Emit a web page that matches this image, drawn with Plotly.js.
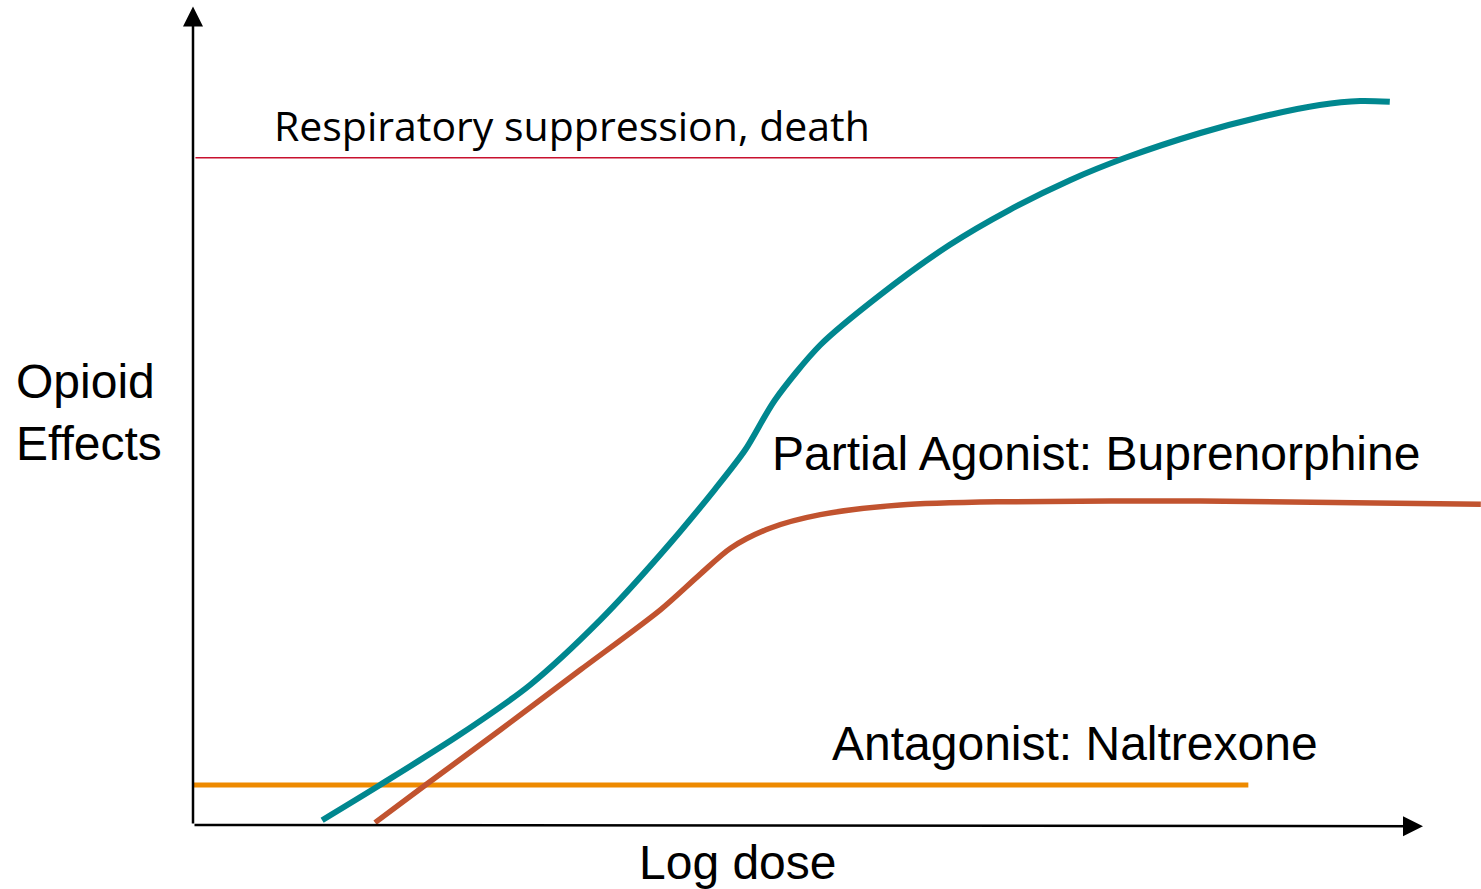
<!DOCTYPE html>
<html>
<head>
<meta charset="utf-8">
<script src="https://cdn.plot.ly/plotly-3.0.1.min.js"></script>
<style>html,body{margin:0;padding:0;background:#fff;}#chart{width:1481px;height:889px;}</style>
</head>
<body>
<div id="chart"></div>
<script>
// Log dose (x) and opioid effect (y)
const fullDose   = [1.05, 1.52, 2.17, 2.74, 3.31, 3.80, 4.24, 4.49, 4.73, 5.10, 5.59, 6.15, 6.64, 7.13, 7.58, 8.19, 8.68, 9.16, 9.49, 9.73];
const fullEffect = [0.6, 5.0, 11.3, 17.5, 25.6, 33.8, 41.9, 46.9, 53.1, 60.0, 66.3, 72.5, 76.9, 80.6, 83.4, 86.5, 88.5, 90.0, 90.5, 90.4];
const partialDose   = [1.48, 1.89, 2.50, 3.15, 3.80, 4.12, 4.37, 4.69, 5.10, 5.75, 6.56, 8.19, 10.47];
const partialEffect = [0.3, 5.0, 11.9, 19.4, 26.9, 31.3, 34.6, 37.1, 38.8, 40.0, 40.4, 40.5, 40.1];
const antagonistDose   = [0, 8.58];
const antagonistEffect = [5.0, 5.0];
const deathDose   = [0.02, 7.58];
const deathEffect = [83.4, 83.4];

const traces = [
  {x: deathDose, y: deathEffect, mode: 'lines', line: {color: '#c8102e', width: 1.5}, hoverinfo: 'skip'},
  {x: antagonistDose, y: antagonistEffect, mode: 'lines', line: {color: '#ee8a00', width: 5}, hoverinfo: 'skip'},
  {x: fullDose, y: fullEffect, mode: 'lines', line: {color: '#00878f', width: 6, shape: 'spline', smoothing: 0.8}, hoverinfo: 'skip'},
  {x: partialDose, y: partialEffect, mode: 'lines', line: {color: '#c1532f', width: 5.5, shape: 'spline', smoothing: 0.8}, hoverinfo: 'skip'}
];

const layout = {
  width: 1481, height: 889,
  margin: {l: 0, r: 0, t: 0, b: 0},
  paper_bgcolor: '#ffffff', plot_bgcolor: '#ffffff',
  showlegend: false,
  xaxis: {range: [-1.5691, 10.4715], showgrid: false, zeroline: false, showticklabels: false, ticks: '', fixedrange: true},
  yaxis: {range: [-8, 103.125], showgrid: false, zeroline: false, showticklabels: false, ticks: '', fixedrange: true},
  annotations: [
    {x: 0, y: 102.3, ax: 0, ay: 0, xref: 'x', yref: 'y', axref: 'x', ayref: 'y', showarrow: true, arrowhead: 2, arrowsize: 1.6, arrowwidth: 2.5, arrowcolor: '#000', text: ''},
    {x: 10.0, y: -0.15, ax: 0, ay: 0, xref: 'x', yref: 'y', axref: 'x', ayref: 'y', showarrow: true, arrowhead: 2, arrowsize: 1.6, arrowwidth: 2.5, arrowcolor: '#000', text: ''},
    {x: 0.645, y: 87.5, xref: 'x', yref: 'y', xanchor: 'left', yanchor: 'middle', showarrow: false, text: 'Respiratory suppression, death', font: {family: 'Open Sans', size: 41, color: '#000'}},
    {x: 4.69, y: 46.5, xref: 'x', yref: 'y', xanchor: 'left', yanchor: 'middle', showarrow: false, text: 'Partial Agonist: Buprenorphine', font: {family: 'Liberation Sans, Arial', size: 48, color: '#000'}},
    {x: 5.18, y: 10.25, xref: 'x', yref: 'y', xanchor: 'left', yanchor: 'middle', showarrow: false, text: 'Antagonist: Naltrexone', font: {family: 'Liberation Sans, Arial', size: 48, color: '#000'}},
    {x: -1.455, y: 51.6, xref: 'x', yref: 'y', xanchor: 'left', yanchor: 'middle', align: 'left', showarrow: false, text: 'Opioid<br>Effects', font: {family: 'Liberation Sans, Arial', size: 48, color: '#000'}},
    {x: 4.431, y: -4.625, xref: 'x', yref: 'y', xanchor: 'center', yanchor: 'middle', showarrow: false, text: 'Log dose', font: {family: 'Liberation Sans, Arial', size: 48, color: '#000'}}
  ]
};

Plotly.newPlot('chart', traces, layout, {staticPlot: true, displayModeBar: false});
</script>
</body>
</html>
